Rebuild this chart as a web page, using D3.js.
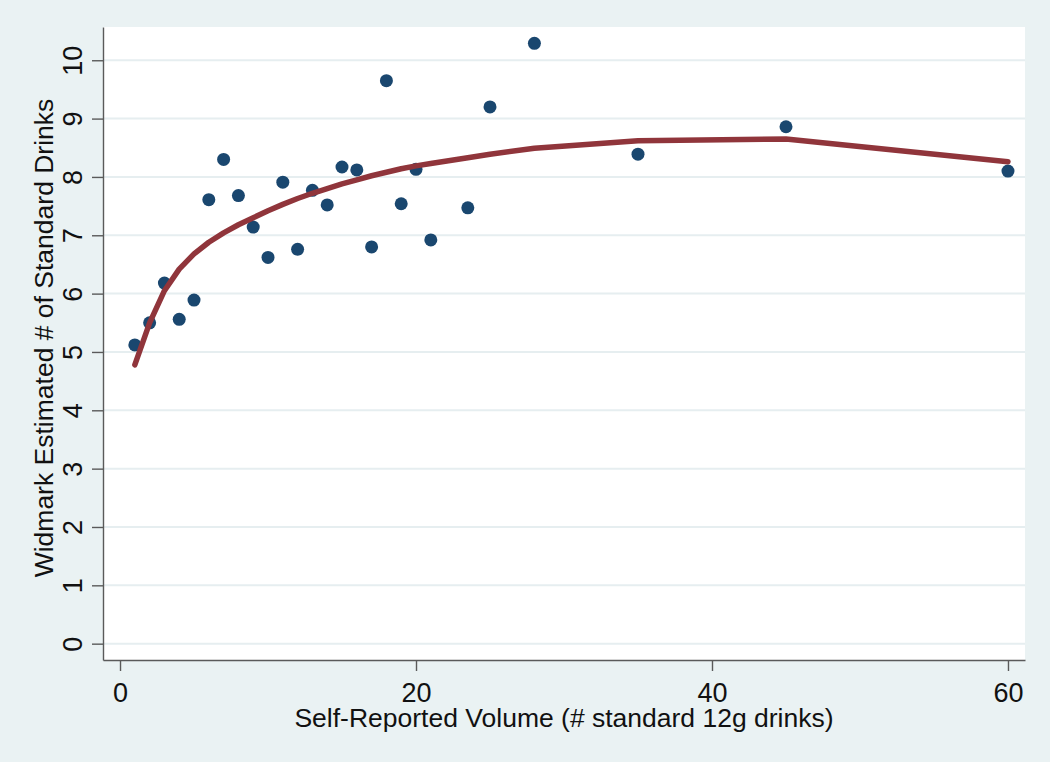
<!DOCTYPE html>
<html>
<head>
<meta charset="utf-8">
<script src="https://cdn.jsdelivr.net/npm/d3@7.9.0/dist/d3.min.js"></script>
<style>
  html, body { margin: 0; padding: 0; background: #eaf2f3; }
  svg { display: block; font-family: "Liberation Sans", Arial, sans-serif; }
</style>
</head>
<body>
<svg id="chart" width="1050" height="762"></svg>
<script>
// scatter: self-reported drinks vs Widmark estimate
const volume = [1, 2, 3, 4, 5, 6, 7, 8, 9, 10, 11, 12, 13, 14, 15, 16, 17, 18, 19, 20, 21, 23.5, 25, 28, 35, 45, 60];
const widmark = [5.12, 5.50, 6.18, 5.56, 5.89, 7.61, 8.30, 7.68, 7.14, 6.62, 7.91, 6.76, 7.77, 7.52, 8.17, 8.12, 6.80, 9.65, 7.54, 8.13, 6.92, 7.47, 9.20, 10.29, 8.39, 8.86, 8.10];

// fitted curve, read at the same x values
const fitted = [4.78, 5.50, 6.05, 6.42, 6.68, 6.88, 7.04, 7.18, 7.30, 7.42, 7.53, 7.63, 7.72, 7.80, 7.88, 7.95, 8.02, 8.08, 8.14, 8.19, 8.23, 8.33, 8.39, 8.49, 8.62, 8.65, 8.26];

const xTicks = [0, 20, 40, 60];
const yTicks = [0, 1, 2, 3, 4, 5, 6, 7, 8, 9, 10];

const xTitle = 'Self-Reported Volume (# standard 12g drinks)';
const yTitle = 'Widmark Estimated # of Standard Drinks';

const plot = { left: 103, right: 1025, top: 27, bottom: 660 };

const svg = d3.select('#chart');

let x = d3.scaleLinear().domain([-1.15, 61.15]).range([plot.left, plot.right]);
let y = d3.scaleLinear().domain([-0.28, 10.57]).range([plot.bottom, plot.top]);

// background
svg.append('rect')
    .attr('width', 1050).attr('height', 762)
    .attr('fill', '#eaf2f3');

svg.append('rect')
    .attr('x', plot.left).attr('y', plot.top)
    .attr('width', plot.right - plot.left)
    .attr('height', plot.bottom - plot.top)
    .attr('fill', '#ffffff');

// horizontal grid
svg.append('g')
    .selectAll('line')
    .data(yTicks)
    .join('line')
    .attr('x1', plot.left).attr('x2', plot.right)
    .attr('y1', d => y(d)).attr('y2', d => y(d))
    .attr('stroke', '#e6eef0')
    .attr('stroke-width', 2);

// axes
let yAxis = svg.append('g')
    .attr('transform', `translate(${plot.left},0)`)
    .call(d3.axisLeft(y).tickValues(yTicks).tickSizeInner(11).tickSizeOuter(0).tickPadding(10));

let xAxis = svg.append('g')
    .attr('transform', `translate(0,${plot.bottom})`)
    .call(d3.axisBottom(x).tickValues(xTicks).tickSizeInner(11).tickSizeOuter(0).tickPadding(10));

[xAxis, yAxis].forEach(g => {
    g.select('.domain').attr('stroke', '#5a5a5a').attr('stroke-width', 1.4);
    g.selectAll('.tick line').attr('stroke', '#5a5a5a').attr('stroke-width', 1.4);
    g.selectAll('.tick text')
        .attr('fill', '#111')
        .style('font-size', '27px')
        .style('font-family', '"Liberation Sans", Arial, sans-serif');
});

// rotated y tick labels, like Stata
yAxis.selectAll('.tick text')
    .attr('x', null).attr('dy', null)
    .attr('text-anchor', 'middle')
    .attr('transform', 'translate(-21,0) rotate(-90)');

xAxis.selectAll('.tick text')
    .attr('dy', null)
    .attr('y', 42);

// axis titles
svg.append('text')
    .attr('x', (plot.left + plot.right) / 2)
    .attr('y', 727)
    .attr('text-anchor', 'middle')
    .attr('fill', '#111')
    .style('font-size', '26.5px')
    .text(xTitle);

svg.append('text')
    .attr('transform', 'translate(53,338) rotate(-90)')
    .attr('text-anchor', 'middle')
    .attr('fill', '#111')
    .style('font-size', '26.5px')
    .text(yTitle);

// points
svg.append('g')
    .selectAll('circle')
    .data(volume.map((v, i) => [v, widmark[i]]))
    .join('circle')
    .attr('cx', d => x(d[0]))
    .attr('cy', d => y(d[1]))
    .attr('r', 6.5)
    .attr('fill', '#1a476f');

// fitted line
let line = d3.line()
    .x(d => x(d[0]))
    .y(d => y(d[1]));

svg.append('path')
    .datum(volume.map((v, i) => [v, fitted[i]]))
    .attr('d', line)
    .attr('fill', 'none')
    .attr('stroke', '#90353b')
    .attr('stroke-width', 5.5)
    .attr('stroke-linejoin', 'round')
    .attr('stroke-linecap', 'round');
</script>
</body>
</html>
